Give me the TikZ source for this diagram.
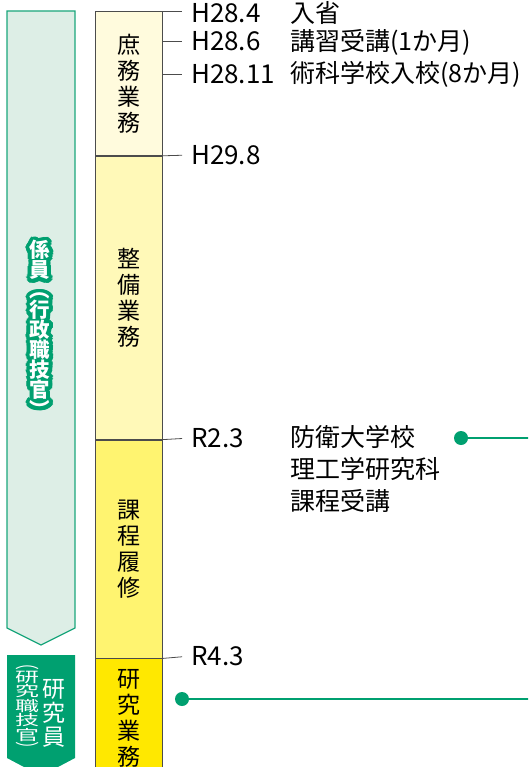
\documentclass[tikz,border=0pt]{standalone}
\usepackage{fontspec}
\setmainfont{Noto Sans CJK JP}
\usetikzlibrary{positioning}
\definecolor{kgreen}{RGB}{0,160,112}
\definecolor{paleg}{RGB}{221,238,230}
\definecolor{edgeg}{RGB}{26,166,124}
\definecolor{ylwa}{RGB}{255,251,221}
\definecolor{ylwb}{RGB}{255,249,184}
\definecolor{ylwc}{RGB}{255,244,112}
\definecolor{ylwd}{RGB}{255,232,0}
\tikzset{
  stagebox/.style={draw=black!70, line width=0.8pt, minimum width=67pt, inner sep=0pt,
    text width=26pt, align=center, font=\fontsize{23}{26}\selectfont},
  tickline/.style={draw=black!70, line width=0.8pt, shorten >=9pt},
  datelbl/.style={anchor=west, inner sep=0pt, font=\fontsize{26}{30}\selectfont},
  notelbl/.style={anchor=west, inner sep=0pt, align=left, font=\fontsize{25}{32}\selectfont},
  dotmark/.style={circle, fill=kgreen, inner sep=0pt, minimum size=14pt},
  linkline/.style={kgreen, line width=2.5pt},
  kakari/.style={inner sep=0pt, align=center, text width=24pt, font=\bfseries\fontsize{20.5}{20}\selectfont},
}
\begin{document}
\begin{tikzpicture}[x=1pt,y=-1pt]
\useasboundingbox (0,0) rectangle (528,767);
\clip (0,0) rectangle (528,767);
% left arrows
\draw[draw=edgeg, fill=paleg, line width=1.2pt] (7,11) -- (75,11) -- (75,628) -- (41,645) -- (7,628) -- cycle;
\fill[kgreen] (7,655) -- (75,655) -- (75,758) -- (41,776) -- (7,758) -- cycle;
\foreach \a in {0,20,...,340} {
  \node[kakari, text=kgreen, shift={(\a:3.8)}] at (40,329) {係\\員\\︵\\行\\政\\職\\技\\官\\︶};
  \node[kakari, text=kgreen, shift={(\a:1.9)}] at (40,329) {係\\員\\︵\\行\\政\\職\\技\\官\\︶};
}
\node[kakari, text=white] (kakari) at (40,329) {係\\員\\︵\\行\\政\\職\\技\\官\\︶};
\node[inner sep=0pt, align=center, text width=26pt, text=white, font=\fontsize{23}{24}\selectfont] (kenkyuin) at (54,713) {研\\究\\員};
\node[inner sep=0pt, align=center, text width=26pt, text=white, yscale=0.6, font=\fontsize{24}{24}\selectfont] (shokukan) at (27,710) {︵\\研\\究\\職\\技\\官\\︶};
% stages
\node[stagebox, fill=ylwa, minimum height=144pt, anchor=north west] (shomu) at (95,11) {庶\\務\\業\\務};
\node[stagebox, fill=ylwb, minimum height=283pt, below=0pt of shomu] (seibi) {整\\備\\業\\務};
\node[stagebox, fill=ylwc, minimum height=218pt, below=0pt of seibi] (katei) {課\\程\\履\\修};
\node[stagebox, fill=ylwd, minimum height=120pt, below=0pt of katei] (kenkyu) {研\\究\\業\\務};
% dates
\node[datelbl] (h284) at (191,13) {H28.4};
\node[datelbl] (h286) at (191,41) {H28.6};
\node[datelbl] (h2811) at (191,74) {H28.11};
\node[datelbl] (h298) at (191,155) {H29.8};
\node[datelbl] (r23) at (191,438) {R2.3};
\node[datelbl] (r43) at (191,656) {R4.3};
\draw[tickline] (shomu.north east) -- (shomu.north east -| h284.west);
\draw[tickline] (shomu.east |- h286.west) -- (h286.west);
\draw[tickline] (shomu.east |- h2811.west) -- (h2811.west);
\draw[tickline] (shomu.south east) -- (h298.west);
\draw[tickline] (seibi.south east) -- (r23.west);
\draw[tickline] (katei.south east) -- (r43.west);
% notes
\node[notelbl] (nyusho) at (290,13) {入省};
\node[notelbl] (koshu) at (290,42) {講習受講(1か月)};
\node[notelbl] (jutsuka) at (290,74) {術科学校入校(8か月)};
\node[notelbl, anchor=north west] (bodai) at (290,425) {防衛大学校\\理工学研究科\\課程受講};
% links
\node[dotmark] (dota) at (461,438) {};
\node[dotmark] (dotb) at (182,699) {};
\coordinate (enda) at (530,438);
\coordinate (endb) at (530,699);
\draw[linkline] (dota) -- (enda);
\draw[linkline] (dotb) -- (endb);
\end{tikzpicture}
\end{document}
